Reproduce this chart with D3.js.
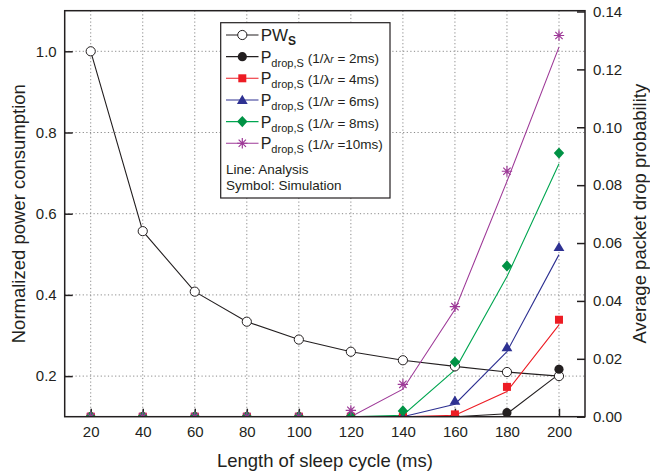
<!DOCTYPE html>
<html>
<head>
<meta charset="utf-8">
<script src="https://cdnjs.cloudflare.com/ajax/libs/d3/7.8.5/d3.min.js"></script>
<style>
	body { margin: 0; background: #fff; }
	text { font-family: "Liberation Sans", Arial, sans-serif; fill: #231f20; }
	.grid line { stroke: #8a8a8a; stroke-width: 1; stroke-dasharray: 1.2,2.4; }
	.axis path { display: none; }
	.axis line { stroke: #231f20; stroke-width: 1.5; }
	.axis text { font-size: 15px; }
</style>
</head>
<body>
<div id="chart"></div>
<script>
(function(){

// x categories (length of sleep cycle, ms)
var sleepCycle = [20, 40, 60, 80, 100, 120, 140, 160, 180, 200];

// normalized power consumption (left axis)
var pwS = [1.0, 0.557, 0.408, 0.334, 0.290, 0.260, 0.239, 0.224, 0.210, 0.200];

// average packet drop probability (right axis), analysis = line, simulation = symbol
var dropAna2  = [0, 0, 0, 0, 0, 0, 0, 0, 0.0010, 0.0147];
var dropSim2  = [0, 0, 0, 0, 0, 0, 0, 0, 0.0014, 0.0164];
var dropAna4  = [0, 0, 0, 0, 0, 0, 0, 0.0005, 0.0087, 0.0317];
var dropSim4  = [0, 0, 0, 0, 0, 0, 0, 0.0008, 0.0103, 0.0335];
var dropAna6  = [0, 0, 0, 0, 0, 0, 0, 0.0043, 0.0225, 0.0560];
var dropSim6  = [0, 0, 0, 0, 0, 0, 0, 0.0055, 0.0240, 0.0586];
var dropAna8  = [0, 0, 0, 0, 0, 0, 0.0005, 0.0162, 0.0484, 0.0874];
var dropSim8  = [0, 0, 0, 0, 0, 0, 0.0020, 0.0189, 0.0521, 0.0911];
var dropAna10 = [0, 0, 0, 0, 0, 0, 0.0095, 0.0370, 0.0813, 0.1277];
var dropSim10 = [0, 0, 0, 0, 0, 0.0022, 0.0112, 0.0380, 0.0848, 0.1317];

// tick labels
var leftTicks  = [0.2, 0.4, 0.6, 0.8, 1.0];
var rightTicks = [0.00, 0.02, 0.04, 0.06, 0.08, 0.10, 0.12, 0.14];

var legendRates = ['2ms', '4ms', '6ms', '8ms', '10ms'];

var width = 650, height = 474;
var plot = {left: 64.7, right: 585, top: 10.7, bottom: 416.7};

var x = d3.scaleLinear().domain([10, 210]).range([plot.left, plot.right]);
var yLeft = d3.scaleLinear().domain([0.1, 1.1]).range([plot.bottom, plot.top]);
var yRight = d3.scaleLinear().domain([0, 0.14]).range([plot.bottom, 11.5]);

var svg = d3.select('#chart').append('svg')
	.attr('width', width)
	.attr('height', height);

svg.append('defs').append('clipPath')
	.attr('id', 'plotclip')
	.append('rect')
	.attr('x', plot.left)
	.attr('y', plot.top)
	.attr('width', plot.right - plot.left)
	.attr('height', plot.bottom - plot.top);

// dotted grid
var grid = svg.append('g').attr('class', 'grid');
grid.selectAll('line.vx').data(sleepCycle).enter()
	.append('line')
	.attr('x1', function(d) { return x(d); })
	.attr('x2', function(d) { return x(d); })
	.attr('y1', plot.top)
	.attr('y2', plot.bottom);
grid.selectAll('line.hy').data(leftTicks).enter()
	.append('line')
	.attr('x1', plot.left)
	.attr('x2', plot.right)
	.attr('y1', function(d) { return yLeft(d); })
	.attr('y2', function(d) { return yLeft(d); });

// axes (ticks inward)
svg.append('g')
	.attr('class', 'axis')
	.attr('transform', 'translate(0,' + plot.bottom + ')')
	.call(d3.axisBottom(x).tickValues(sleepCycle).tickSize(-8).tickPadding(10).tickFormat(d3.format('d')));

svg.append('g')
	.attr('class', 'axis')
	.attr('transform', 'translate(' + plot.left + ',0)')
	.call(d3.axisLeft(yLeft).tickValues(leftTicks).tickSize(-8).tickPadding(8).tickFormat(d3.format('.1f')));

svg.append('g')
	.attr('class', 'axis')
	.attr('transform', 'translate(' + plot.right + ',0)')
	.call(d3.axisRight(yRight).tickValues(rightTicks).tickSize(-8).tickPadding(8).tickFormat(d3.format('.2f')));

// symbols
var asteriskPath = function(r) {
	var p = '';
	[0, 45, 90, 135].forEach(function(a) {
		var dx = r * Math.cos(a * Math.PI / 180), dy = r * Math.sin(a * Math.PI / 180);
		p += 'M' + (-dx) + ',' + (-dy) + 'L' + dx + ',' + dy;
	});
	return p;
};

var series = [
	{ana: dropAna2,  sim: dropSim2,  color: '#231f20', shape: 'circle'},
	{ana: dropAna4,  sim: dropSim4,  color: '#ed1c24', shape: 'square'},
	{ana: dropAna6,  sim: dropSim6,  color: '#2e3192', shape: 'triangle'},
	{ana: dropAna8,  sim: dropSim8,  color: '#00a651', fill: '#009245', shape: 'diamond'},
	{ana: dropAna10, sim: dropSim10, color: '#9e3a98', shape: 'asterisk'}
];

function drawSymbol(g, shape, color, fill) {
	if (shape == 'circle') {
		g.append('circle').attr('r', 4.6).style('fill', color).style('stroke', 'none');
	} else if (shape == 'open') {
		g.append('circle').attr('r', 4.6).style('fill', '#fff').style('stroke', '#231f20').style('stroke-width', 1);
	} else if (shape == 'square') {
		g.append('rect').attr('x', -4).attr('y', -4).attr('width', 8).attr('height', 8).style('fill', color);
	} else if (shape == 'triangle') {
		g.append('path').attr('d', 'M0,-5.2L5.4,4L-5.4,4Z').style('fill', color);
	} else if (shape == 'diamond') {
		g.append('path').attr('d', 'M0,-5.6L5.2,0L0,5.6L-5.2,0Z').style('fill', fill || color);
	} else if (shape == 'asterisk') {
		g.append('path').attr('d', asteriskPath(5.2)).style('fill', 'none')
			.style('stroke', color).style('stroke-width', 1.2);
	}
}

var data = svg.append('g').attr('clip-path', 'url(#plotclip)');

// power consumption line + open circles
var linePW = d3.line()
	.x(function(d, i) { return x(sleepCycle[i]); })
	.y(function(d) { return yLeft(d); });

data.append('path')
	.datum(pwS)
	.attr('d', linePW)
	.style('fill', 'none')
	.style('stroke', '#231f20')
	.style('stroke-width', 1.1);

// drop probability lines
var lineDrop = d3.line()
	.x(function(d, i) { return x(sleepCycle[i]); })
	.y(function(d) { return yRight(d); });

series.forEach(function(s) {
	data.append('path')
		.datum(s.ana)
		.attr('d', lineDrop)
		.style('fill', 'none')
		.style('stroke', s.color)
		.style('stroke-width', 1.1);
});

data.selectAll('g.pw').data(pwS).enter()
	.append('g')
	.attr('class', 'pw')
	.attr('transform', function(d, i) { return 'translate(' + x(sleepCycle[i]) + ',' + yLeft(d) + ')'; })
	.each(function() { drawSymbol(d3.select(this), 'open'); });

series.forEach(function(s) {
	data.selectAll('g.sym' + s.shape).data(s.sim).enter()
		.append('g')
		.attr('class', 'sym' + s.shape)
		.attr('transform', function(d, i) { return 'translate(' + x(sleepCycle[i]) + ',' + yRight(d) + ')'; })
		.each(function() { drawSymbol(d3.select(this), s.shape, s.color, s.fill); });
});

// frame
svg.append('rect')
	.attr('x', plot.left)
	.attr('y', plot.top)
	.attr('width', plot.right - plot.left)
	.attr('height', plot.bottom - plot.top)
	.style('fill', 'none')
	.style('stroke', '#231f20')
	.style('stroke-width', 1.5);

// axis titles
svg.append('text')
	.attr('x', (plot.left + plot.right) / 2)
	.attr('y', 467)
	.attr('text-anchor', 'middle')
	.style('font-size', '18.5px')
	.text('Length of sleep cycle (ms)');

svg.append('text')
	.attr('transform', 'translate(25,' + (plot.top + plot.bottom) / 2 + ') rotate(-90)')
	.attr('text-anchor', 'middle')
	.style('font-size', '18.5px')
	.text('Normalized power consumption');

svg.append('text')
	.attr('transform', 'translate(646,' + (plot.top + plot.bottom) / 2 + ') rotate(-90)')
	.attr('text-anchor', 'middle')
	.style('font-size', '18.5px')
	.text('Average packet drop probability');

// legend
var legend = svg.append('g').attr('class', 'legend');
legend.append('rect')
	.attr('x', 220.7)
	.attr('y', 22.7)
	.attr('width', 169.3)
	.attr('height', 175.3)
	.style('fill', '#fff')
	.style('stroke', '#231f20')
	.style('stroke-width', 1.2);

var rows = [{shape: 'open', color: '#231f20'}].concat(series);
var item = legend.selectAll('g.item').data(rows).enter()
	.append('g')
	.attr('class', 'item')
	.attr('transform', function(d, i) { return 'translate(0,' + (35 + i * 21.65) + ')'; });

item.append('line')
	.attr('x1', 226).attr('x2', 258.5)
	.attr('y1', 0).attr('y2', 0)
	.style('stroke', function(d) { return d.color; })
	.style('stroke-width', 1.1);

item.each(function(d) {
	var g = d3.select(this).append('g').attr('transform', 'translate(242.3,0)');
	drawSymbol(g, d.shape, d.color, d.fill);
});

item.each(function(d, i) {
	var t = d3.select(this).append('text').attr('x', 260.7).attr('y', 6);
	if (i == 0) {
		t.append('tspan').style('font-size', '17px').text('PW');
		t.append('tspan').attr('dy', 4).style('font-size', '12px').style('font-weight', 'bold').text('S');
	} else {
		var rate = legendRates[i - 1];
		t.append('tspan').style('font-size', '16px').text('P');
		t.append('tspan').attr('dy', 4).style('font-size', '11px').text('drop,S');
		t.append('tspan').attr('dy', -4).attr('dx', 4).style('font-size', '13.5px').text('(1/λ');
		t.append('tspan').style('font-size', '10px').style('font-style', 'italic').text('r');
		t.append('tspan').style('font-size', '13.5px')
			.text(rate.length > 3 ? ' =' + rate + ')' : ' = ' + rate + ')');
	}
});

legend.append('text')
	.attr('x', 226).attr('y', 174)
	.style('font-size', '13.5px')
	.text('Line: Analysis');
legend.append('text')
	.attr('x', 226).attr('y', 190)
	.style('font-size', '13.5px')
	.text('Symbol: Simulation');

})();
</script>
</body>
</html>
